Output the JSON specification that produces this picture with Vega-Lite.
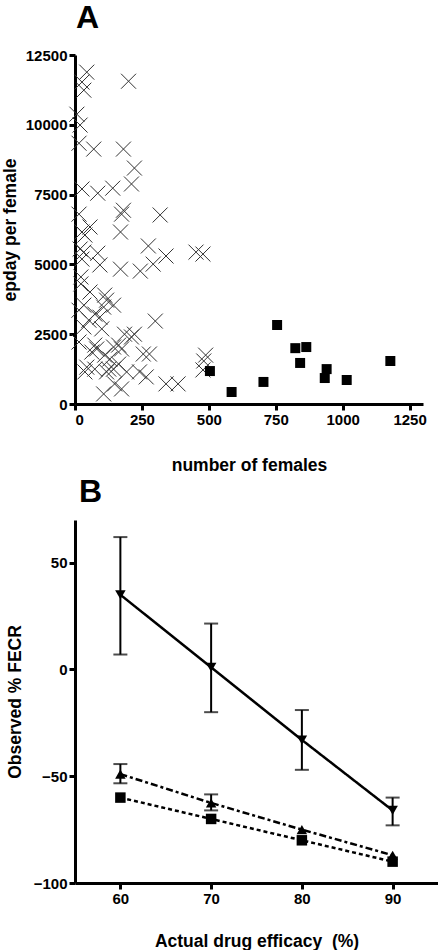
{
  "$schema": "https://vega.github.io/schema/vega-lite/v6.json",
  "background": "white",
  "padding": {"left": 1, "top": 2, "right": 0, "bottom": 0},
  "config": {
    "font": "Liberation Sans",
    "view": {"stroke": null},
    "axis": {
      "domainColor": "black", "domainWidth": 3, "tickColor": "black", "tickWidth": 3, "tickSize": 6,
      "labelFont": "Liberation Sans", "labelFontSize": 15, "labelFontWeight": "bold", "labelColor": "black",
      "titleFont": "Liberation Sans", "titleFontSize": 17.5, "titleFontWeight": "bold", "titleColor": "black",
      "grid": false, "labelPadding": 2, "format": "d"
    },
    "title": {"font": "Liberation Sans", "fontSize": 32, "fontWeight": "bold", "anchor": "start", "color": "black", "frame": "group", "baseline": "alphabetic"}
  },
  "datasets": {
    "a": [
      {"females": 44, "epday": 11886, "g": "x"}, {"females": 26, "epday": 11530, "g": "x"}, {"females": 33, "epday": 11240, "g": "x"},
      {"females": 200, "epday": 11560, "g": "x"}, {"females": 7, "epday": 10380, "g": "x"}, {"females": 19, "epday": 9990, "g": "x"},
      {"females": 15, "epday": 9340, "g": "x"}, {"females": 70, "epday": 9130, "g": "x"}, {"females": 181, "epday": 9130, "g": "x"},
      {"females": 222, "epday": 8450, "g": "x"},
      {"females": 26, "epday": 7700, "g": "x"}, {"females": 85, "epday": 7550, "g": "x"}, {"females": 141, "epday": 7730, "g": "x"},
      {"females": 211, "epday": 7880, "g": "x"}, {"females": 15, "epday": 6800, "g": "x"}, {"females": 181, "epday": 6940, "g": "x"},
      {"females": 174, "epday": 6800, "g": "x"}, {"females": 318, "epday": 6770, "g": "x"}, {"females": 56, "epday": 6340, "g": "x"},
      {"females": 26, "epday": 6160, "g": "x"}, {"females": 37, "epday": 6050, "g": "x"}, {"females": 170, "epday": 6160, "g": "x"},
      {"females": 274, "epday": 5660, "g": "x"}, {"females": 19, "epday": 5550, "g": "x"}, {"females": 33, "epday": 5440, "g": "x"},
      {"females": 85, "epday": 5400, "g": "x"}, {"females": 452, "epday": 5440, "g": "x"}, {"females": 478, "epday": 5370, "g": "x"},
      {"females": 340, "epday": 5300, "g": "x"}, {"females": 292, "epday": 5010, "g": "x"}, {"females": 26, "epday": 5190, "g": "x"},
      {"females": 93, "epday": 4980, "g": "x"}, {"females": 170, "epday": 4830, "g": "x"}, {"females": 244, "epday": 4760, "g": "x"},
      {"females": 22, "epday": 4550, "g": "x"}, {"females": 22, "epday": 4300, "g": "x"}, {"females": 56, "epday": 4010, "g": "x"},
      {"females": 111, "epday": 3900, "g": "x"},
      {"females": 118, "epday": 3720, "g": "x"}, {"females": 144, "epday": 3540, "g": "x"}, {"females": 107, "epday": 3470, "g": "x"},
      {"females": 15, "epday": 3360, "g": "x"}, {"females": 33, "epday": 3540, "g": "x"}, {"females": 74, "epday": 3220, "g": "x"},
      {"females": 93, "epday": 3110, "g": "x"}, {"females": 52, "epday": 3000, "g": "x"}, {"females": 33, "epday": 2760, "g": "x"},
      {"females": 100, "epday": 2690, "g": "x"}, {"females": 300, "epday": 2970, "g": "x"}, {"females": 15, "epday": 2220, "g": "x"},
      {"females": 185, "epday": 2500, "g": "x"}, {"females": 222, "epday": 2500, "g": "x"}, {"females": 211, "epday": 2400, "g": "x"},
      {"females": 74, "epday": 2110, "g": "x"}, {"females": 81, "epday": 1970, "g": "x"}, {"females": 144, "epday": 2040, "g": "x"},
      {"females": 163, "epday": 2110, "g": "x"}, {"females": 174, "epday": 1970, "g": "x"}, {"females": 63, "epday": 1860, "g": "x"},
      {"females": 111, "epday": 1750, "g": "x"}, {"females": 255, "epday": 1790, "g": "x"}, {"females": 278, "epday": 1790, "g": "x"},
      {"females": 130, "epday": 1610, "g": "x"}, {"females": 163, "epday": 1430, "g": "x"}, {"females": 44, "epday": 1320, "g": "x"},
      {"females": 37, "epday": 1150, "g": "x"}, {"females": 74, "epday": 1250, "g": "x"}, {"females": 126, "epday": 1250, "g": "x"},
      {"females": 118, "epday": 1150, "g": "x"}, {"females": 144, "epday": 1250, "g": "x"}, {"females": 193, "epday": 1150, "g": "x"},
      {"females": 241, "epday": 1150, "g": "x"}, {"females": 266, "epday": 970, "g": "x"}, {"females": 488, "epday": 1750, "g": "x"},
      {"females": 481, "epday": 1540, "g": "x"}, {"females": 478, "epday": 1220, "g": "x"}, {"females": 148, "epday": 720, "g": "x"},
      {"females": 174, "epday": 540, "g": "x"}, {"females": 107, "epday": 360, "g": "x"}, {"females": 340, "epday": 720, "g": "x"},
      {"females": 385, "epday": 720, "g": "x"},
      {"females": 504, "epday": 1180, "g": "s"}, {"females": 585, "epday": 430, "g": "s"}, {"females": 704, "epday": 790, "g": "s"},
      {"females": 755, "epday": 2830, "g": "s"}, {"females": 823, "epday": 2000, "g": "s"}, {"females": 864, "epday": 2040, "g": "s"},
      {"females": 841, "epday": 1470, "g": "s"}, {"females": 940, "epday": 1250, "g": "s"}, {"females": 933, "epday": 930, "g": "s"},
      {"females": 1015, "epday": 860, "g": "s"}, {"females": 1178, "epday": 1540, "g": "s"}
    ],
    "b": [
      {"efficacy": 60, "fecr": 35, "lo": 7, "hi": 62, "series": "down"},
      {"efficacy": 70, "fecr": 1, "lo": -20, "hi": 21.5, "series": "down"},
      {"efficacy": 80, "fecr": -33, "lo": -47, "hi": -19, "series": "down"},
      {"efficacy": 90, "fecr": -66, "lo": -73, "hi": -60, "series": "down"},
      {"efficacy": 60, "fecr": -49, "lo": -53.3, "hi": -44.3, "series": "up"},
      {"efficacy": 70, "fecr": -62.5, "lo": -66, "hi": -58.5, "series": "up"},
      {"efficacy": 80, "fecr": -75, "lo": null, "hi": null, "series": "up"},
      {"efficacy": 90, "fecr": -87, "lo": null, "hi": null, "series": "up"},
      {"efficacy": 60, "fecr": -60, "lo": null, "hi": null, "series": "square"},
      {"efficacy": 70, "fecr": -70, "lo": null, "hi": null, "series": "square"},
      {"efficacy": 80, "fecr": -80, "lo": null, "hi": null, "series": "square"},
      {"efficacy": 90, "fecr": -90, "lo": null, "hi": null, "series": "square"}
    ],
    "zero": [{"z": 0}]
  },
  "bounds": "flush",
  "spacing": 116,
  "vconcat": [
    {
      "title": {"text": "A", "offset": 13, "dx": 1},
      "width": 348,
      "height": 349,
      "data": {"name": "a"},
      "encoding": {
        "x": {"field": "females", "type": "quantitative", "scale": {"domain": [0, 1300], "nice": false, "zero": false},
              "axis": {"values": [0, 250, 500, 750, 1000, 1250], "title": "number of females", "titlePadding": 29}},
        "y": {"field": "epday", "type": "quantitative", "scale": {"domain": [0, 12500], "nice": false},
              "axis": {"values": [0, 2500, 5000, 7500, 10000, 12500], "title": "epday per female", "titlePadding": 6}}
      },
      "layer": [
        {"transform": [{"filter": "datum.g === 'x'"}],
         "mark": {"type": "point", "shape": "M-1,-1L1,1M1,-1L-1,1", "size": 225, "filled": false, "stroke": "#333333", "strokeWidth": 1, "opacity": 1}},
        {"transform": [{"filter": "datum.g === 's'"}],
         "mark": {"type": "square", "size": 100, "color": "black", "opacity": 1}}
      ]
    },
    {
      "title": {"text": "B", "offset": 11, "dx": 4},
      "width": 363,
      "height": 363,
      "layer": [
        {"data": {"name": "zero"},
         "mark": {"type": "rule", "strokeDash": [3, 3], "strokeWidth": 1, "color": "black"},
         "encoding": {"y": {"field": "z", "type": "quantitative"}}},
        {"data": {"name": "b"},
         "mark": {"type": "line", "color": "black", "strokeWidth": 2.5},
         "encoding": {
           "x": {"field": "efficacy", "type": "quantitative"},
           "y": {"field": "fecr", "type": "quantitative"},
           "detail": {"field": "series"},
           "strokeDash": {"field": "series", "type": "nominal", "legend": null,
                          "scale": {"domain": ["down", "up", "square"], "range": [[1, 0], [7, 3, 3, 3], [4, 3]]}}
         }},
        {"data": {"name": "b"},
         "transform": [{"filter": "datum.lo != null"}],
         "mark": {"type": "errorbar", "ticks": true, "color": "black", "thickness": 2, "size": 14},
         "encoding": {
           "x": {"field": "efficacy", "type": "quantitative"},
           "y": {"field": "lo", "type": "quantitative"},
           "y2": {"field": "hi"}
         }},
        {"data": {"name": "b"},
         "mark": {"type": "point", "filled": true, "color": "black", "opacity": 1, "size": 110},
         "encoding": {
           "x": {"field": "efficacy", "type": "quantitative"},
           "y": {"field": "fecr", "type": "quantitative"},
           "shape": {"field": "series", "type": "nominal", "legend": null,
                     "scale": {"domain": ["down", "up", "square"], "range": ["triangle-down", "triangle-up", "square"]}}
         }}
      ],
      "resolve": {"scale": {"strokeDash": "independent"}},
      "encoding": {
        "x": {"field": "efficacy", "type": "quantitative", "scale": {"domain": [55, 95], "nice": false, "zero": false},
              "axis": {"values": [60, 70, 80, 90], "title": "Actual drug efficacy \u00a0(%)", "titlePadding": 26}},
        "y": {"field": "fecr", "type": "quantitative", "scale": {"domain": [-100, 70], "nice": false, "zero": false},
              "axis": {"values": [-100, -50, 0, 50], "title": "Observed % FECR", "titlePadding": 9}}
      }
    }
  ]
}
